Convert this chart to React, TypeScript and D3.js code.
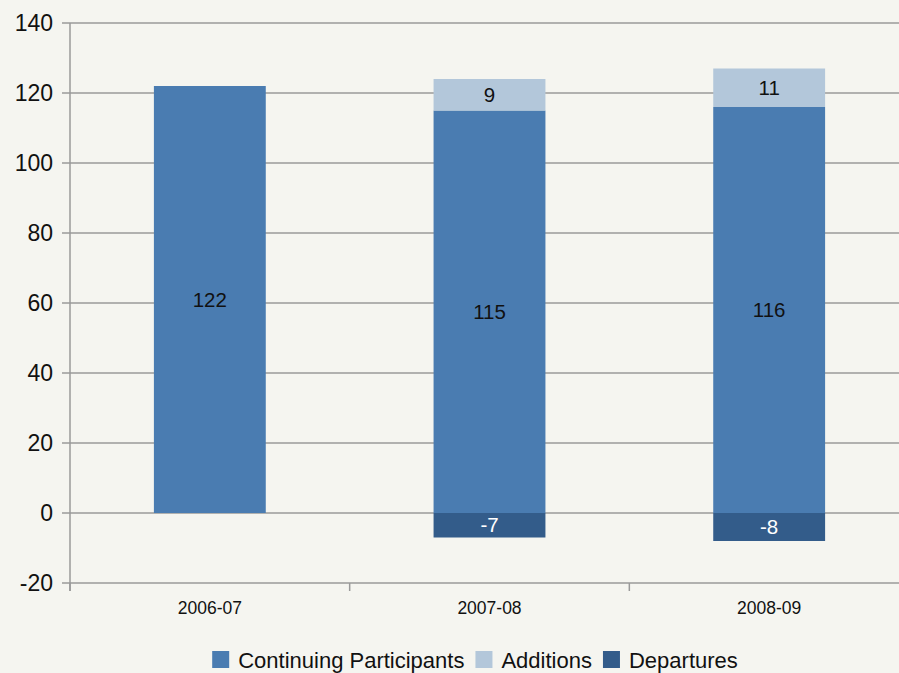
import React, { useEffect, useRef } from 'react';
import * as d3 from 'd3';

const years = ['2006-07', '2007-08', '2008-09'];
const continuing = [122, 115, 116];
const additions = [0, 9, 11];
const departures = [0, -7, -8];
const yTicks = [-20, 0, 20, 40, 60, 80, 100, 120, 140];

const seriesNames = ['Continuing Participants', 'Additions', 'Departures'];
const colors = ['#4a7cb1', '#b3c7da', '#335c8a'];

const FONT = 'Liberation Sans, Arial, sans-serif';

export default function App() {
  const svgRef = useRef<SVGSVGElement>(null);

  useEffect(() => {
    if (!svgRef.current) return;
    const svg = d3.select(svgRef.current);
    svg.selectAll('*').remove();

    const W = 899;
    const H = 673;
    const left = 70;
    const right = 909;

    svg.append('rect').attr('width', W).attr('height', H).attr('fill', '#f5f5f0');

    const x = d3.scaleBand<string>().domain(years).range([left, right]).paddingInner(0).paddingOuter(0);
    const y = d3.scaleLinear().domain([-20, 140]).range([583, 23]);
    const barW = x.bandwidth() * 0.4;

    // Gridlines
    svg
      .append('g')
      .selectAll('line')
      .data(yTicks)
      .enter()
      .append('line')
      .attr('x1', left - 8)
      .attr('x2', W)
      .attr('y1', (d) => y(d))
      .attr('y2', (d) => y(d))
      .attr('stroke', '#9a9a9a')
      .attr('stroke-width', 1.5);

    // Y axis line
    svg
      .append('line')
      .attr('x1', left)
      .attr('x2', left)
      .attr('y1', y(140))
      .attr('y2', y(-20) + 8)
      .attr('stroke', '#9a9a9a')
      .attr('stroke-width', 1.5);

    // X ticks at band boundaries
    const bounds = years.map((yr) => x(yr) as number).concat([right]);
    svg
      .append('g')
      .selectAll('line')
      .data(bounds)
      .enter()
      .append('line')
      .attr('x1', (d) => d)
      .attr('x2', (d) => d)
      .attr('y1', y(-20))
      .attr('y2', y(-20) + 8)
      .attr('stroke', '#9a9a9a')
      .attr('stroke-width', 1.5);

    // Y tick labels
    svg
      .append('g')
      .selectAll('text')
      .data(yTicks)
      .enter()
      .append('text')
      .attr('x', left - 17)
      .attr('y', (d) => y(d))
      .attr('dy', '0.35em')
      .attr('text-anchor', 'end')
      .style('font-family', FONT)
      .style('font-size', '23px')
      .style('fill', '#111')
      .text((d) => d);

    // X labels
    svg
      .append('g')
      .selectAll('text')
      .data(years)
      .enter()
      .append('text')
      .attr('x', (d) => (x(d) as number) + x.bandwidth() / 2)
      .attr('y', 614)
      .attr('text-anchor', 'middle')
      .style('font-family', FONT)
      .style('font-size', '17.5px')
      .style('fill', '#111')
      .text((d) => d);

    // Segments
    const segs: { yr: string; y0: number; y1: number; v: number; s: number }[] = [];
    years.forEach((yr, i) => {
      segs.push({ yr, y0: 0, y1: continuing[i], v: continuing[i], s: 0 });
      if (additions[i]) segs.push({ yr, y0: continuing[i], y1: continuing[i] + additions[i], v: additions[i], s: 1 });
      if (departures[i]) segs.push({ yr, y0: departures[i], y1: 0, v: departures[i], s: 2 });
    });

    const cx = (yr: string) => (x(yr) as number) + x.bandwidth() / 2;

    svg
      .append('g')
      .selectAll('rect')
      .data(segs)
      .enter()
      .append('rect')
      .attr('x', (d) => cx(d.yr) - barW / 2)
      .attr('width', barW)
      .attr('y', (d) => y(d.y1))
      .attr('height', (d) => y(d.y0) - y(d.y1))
      .attr('fill', (d) => colors[d.s]);

    svg
      .append('g')
      .selectAll('text')
      .data(segs)
      .enter()
      .append('text')
      .attr('x', (d) => cx(d.yr))
      .attr('y', (d) => y((d.y0 + d.y1) / 2))
      .attr('dy', '0.35em')
      .attr('text-anchor', 'middle')
      .style('font-family', FONT)
      .style('font-size', '20.5px')
      .style('fill', (d) => (d.s === 2 ? '#fff' : '#111'))
      .text((d) => d.v);

    // Legend
    const lg = svg.append('g');
    let cur = 0;
    seriesNames.forEach((name, i) => {
      const item = lg.append('g').attr('transform', `translate(${cur},0)`);
      item.append('rect').attr('x', 0).attr('y', -9).attr('width', 17).attr('height', 17).attr('fill', colors[i]);
      const t = item
        .append('text')
        .attr('x', 26)
        .attr('y', 0)
        .attr('dy', '0.35em')
        .style('font-family', FONT)
        .style('font-size', '22px')
        .style('fill', '#111')
        .text(name);
      const tw = (t.node() as SVGTextElement).getComputedTextLength();
      cur += 26 + tw + 11;
    });
    const total = cur - 11;
    lg.attr('transform', `translate(${475 - total / 2},660)`);
  }, []);

  return (
    <div style={{ position: 'absolute', left: 0, top: 0 }}>
      <svg ref={svgRef} width={899} height={673} style={{ display: 'block' }}></svg>
    </div>
  );
}
